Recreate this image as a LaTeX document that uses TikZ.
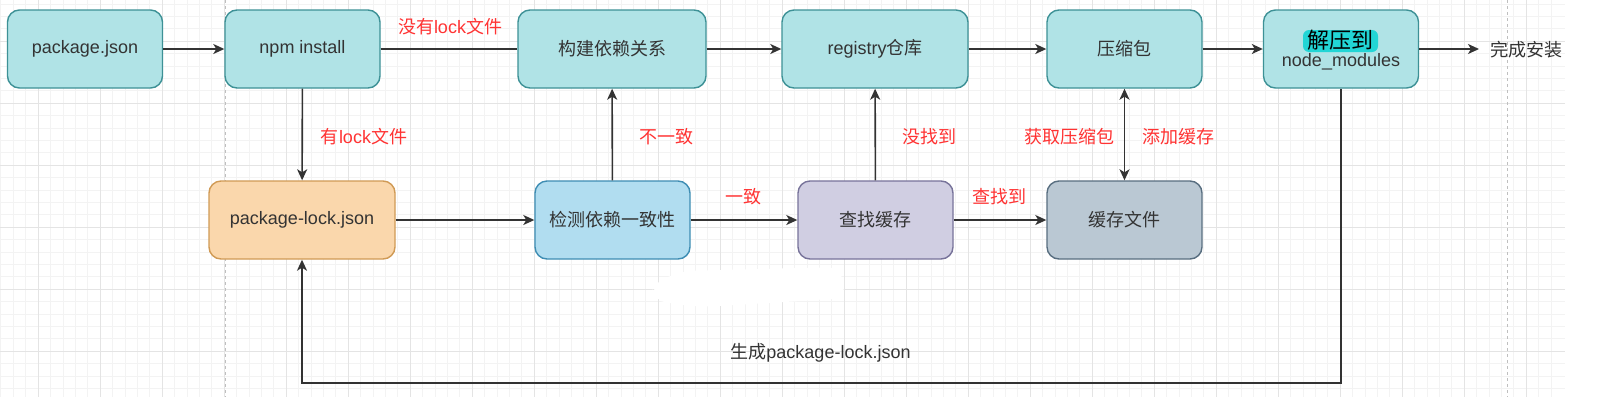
\documentclass[tikz,border=0pt]{standalone}
\usepackage{fontspec}
\setmainfont{Liberation Sans}
\newfontfamily\cjk{Noto Sans CJK SC}
\usetikzlibrary{arrows.meta}
\definecolor{tealfill}{HTML}{B0E3E6}
\definecolor{tealline}{HTML}{3D9196}
\definecolor{orfill}{HTML}{FAD7AC}
\definecolor{orline}{HTML}{D09A55}
\definecolor{blfill}{HTML}{B1DDF0}
\definecolor{blline}{HTML}{3E8DB3}
\definecolor{pufill}{HTML}{D0CEE2}
\definecolor{puline}{HTML}{77739A}
\definecolor{gbfill}{HTML}{BAC8D3}
\definecolor{gbline}{HTML}{586E80}
\definecolor{txt}{HTML}{333333}
\definecolor{lin}{HTML}{333333}
\definecolor{redc}{HTML}{FF3333}
\definecolor{gmaj}{HTML}{E4E4E4}
\definecolor{gmin}{HTML}{F3F3F3}
\definecolor{hilite}{HTML}{22D5D5}
\newcommand\zhtxt[1]{{\cjk #1}}
\newcommand\myfs{\fontsize{18}{21}\selectfont}
\tikzset{
  box/.style={draw, rounded corners=12pt, line width=1.4pt, minimum height=78pt,
    minimum width=155pt, inner sep=0pt, font=\myfs, text=txt},
  tealbox/.style={box, fill=tealfill, draw=tealline},
  orbox/.style={box, fill=orfill, draw=orline},
  blbox/.style={box, fill=blfill, draw=blline},
  pubox/.style={box, fill=pufill, draw=puline},
  gbbox/.style={box, fill=gbfill, draw=gbline},
  arr/.style={-{Stealth[length=11pt,width=10pt,inset=3pt]}, line width=1.6pt, draw=lin},
  darr/.style={{Stealth[length=11pt,width=10pt,inset=3pt]}-{Stealth[length=11pt,width=10pt,inset=3pt]}, line width=1.6pt, draw=lin},
  plain/.style={line width=1.6pt, draw=lin},
  lbl/.style={text=redc, font=\myfs, inner sep=0pt},
  dlbl/.style={text=txt, font=\myfs, inner sep=0pt},
}
\begin{document}
\begin{tikzpicture}[x=1pt, y=-1pt]
\useasboundingbox (0,0) rectangle (1616,400);
\fill[white] (0,0) rectangle (1616,400);
% grid
\foreach \k in {0,...,125} {\draw[gmin, line width=0.6pt] ({0.8+12.4*\k},0) -- ({0.8+12.4*\k},397);}
\foreach \k in {0,...,31} {\draw[gmin, line width=0.6pt] (0,{3.8+12.4*\k}) -- (1565,{3.8+12.4*\k});}
\foreach \k in {0,...,24} {\draw[gmaj, line width=1pt] ({38+62*\k},0) -- ({38+62*\k},397);}
\foreach \k in {0,...,5} {\draw[gmaj, line width=1pt] (0,{41+62*\k}) -- (1565,{41+62*\k});}
\draw[black!25, dashed, line width=1pt] (225.5,0) -- (225.5,397);
\draw[black!25, dashed, line width=1pt] (1507,0) -- (1507,397);
% white patch
\fill[white, rounded corners=12pt] (652,284) -- (682,271) -- (840,267) -- (846,298) -- (785,302) -- (700,307) -- (654,301) -- cycle;
% nodes
\node[tealbox] (pkg) at (85,49) {package.json};
\node[tealbox] (npm) at (302.5,49) {npm install};
\node[tealbox, minimum width=188pt] (build) at (612,49) {\zhtxt{构建依赖关系}};
\node[tealbox, minimum width=186pt] (reg) at (875,49) {registry\zhtxt{仓库}};
\node[tealbox] (tgz) at (1124.5,49) {\zhtxt{压缩包}};
\node[tealbox] (nm) at (1341,49) {};
\fill[hilite, rounded corners=6pt] (1303,30) rectangle (1378,52);
\node[text=black, inner sep=0pt, font=\fontsize{22}{24}\selectfont] (nmtop) at (1340.5,40) {\zhtxt{解压到}};
\node[text=txt, inner sep=0pt, font=\myfs] (nmbot) at (1341,62) {node\_modules};
\node[orbox, minimum width=186pt] (lock) at (302,220) {package-lock.json};
\node[blbox] (check) at (612.5,220) {\zhtxt{检测依赖一致性}};
\node[pubox] (cache) at (875.5,220) {\zhtxt{查找缓存}};
\node[gbbox] (cfile) at (1124.5,220) {\zhtxt{缓存文件}};
\coordinate (done) at (1479,49);
\node[dlbl] (donet) at (1526.5,50) {\zhtxt{完成安装}};
\coordinate (loopR) at (1341,383);
% connectors
\draw[arr] (pkg) -- (npm);
\draw[plain] (npm) -- (build);
\draw[arr] (npm) -- (lock);
\draw[arr] (lock) -- (check);
\draw[arr] (check) -- (build);
\draw[arr] (check) -- (cache);
\draw[arr] (cache) -- (reg);
\draw[arr] (cache) -- (cfile);
\draw[arr] (build) -- (reg);
\draw[arr] (reg) -- (tgz);
\draw[arr] (tgz) -- (nm);
\draw[darr] (tgz) -- (cfile);
\draw[arr] (nm) -- (done);
\draw[arr] (nm.south) -- (loopR) -| (lock.south);
% labels
\node[lbl] (l1) at (450,27) {\zhtxt{没有}lock\zhtxt{文件}};
\node[lbl] (l2) at (364,137) {\zhtxt{有}lock\zhtxt{文件}};
\node[lbl] (l3) at (666.5,137) {\zhtxt{不一致}};
\node[lbl] (l4) at (929.5,137) {\zhtxt{没找到}};
\node[lbl] (l5) at (1069.5,137) {\zhtxt{获取压缩包}};
\node[lbl] (l6) at (1178,137) {\zhtxt{添加缓存}};
\node[lbl] (l7) at (743,197) {\zhtxt{一致}};
\node[lbl] (l8) at (999.5,197) {\zhtxt{查找到}};
\node[dlbl] (l9) at (820.5,353) {\zhtxt{生成}package-lock.json};
\end{tikzpicture}
\end{document}
